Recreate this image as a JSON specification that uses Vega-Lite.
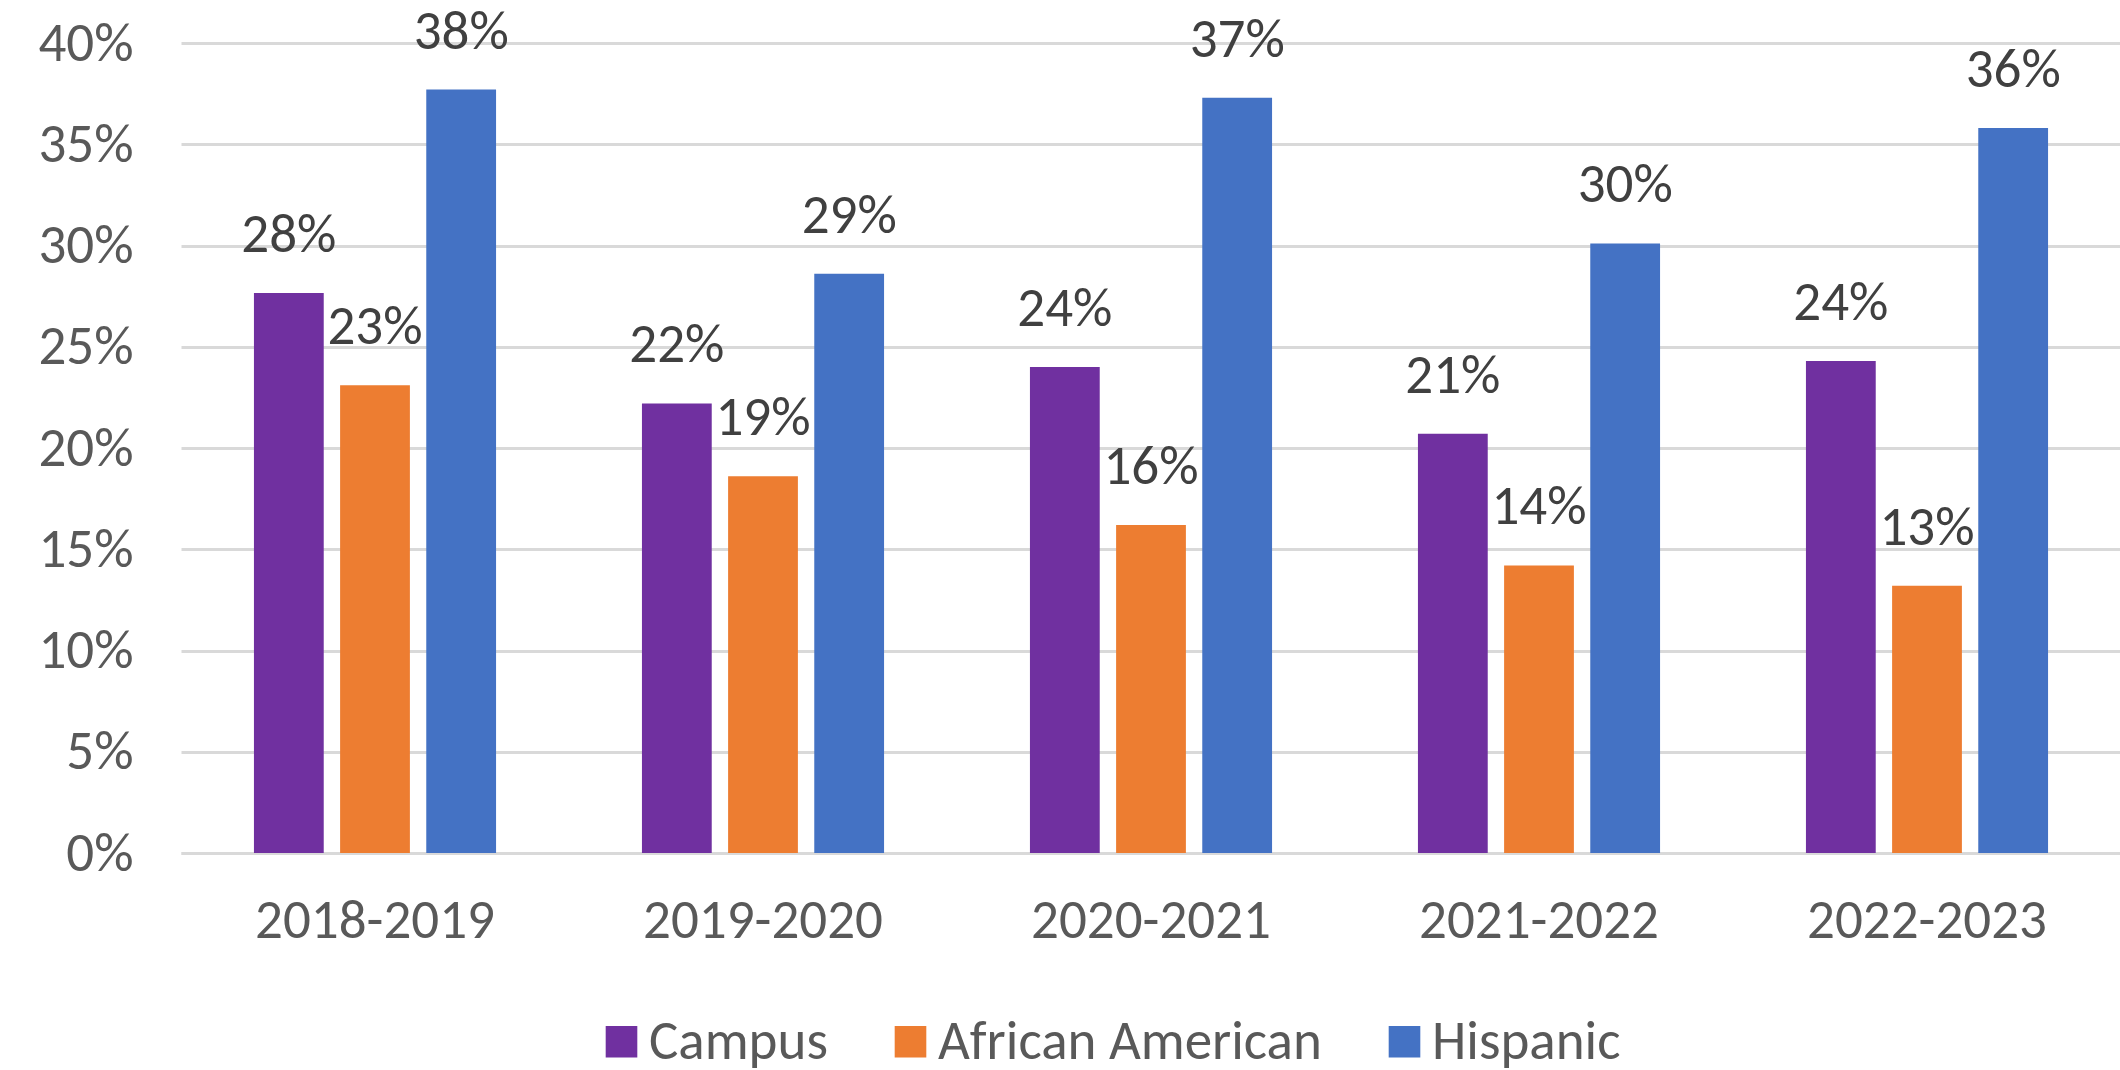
{
  "$schema": "https://vega.github.io/schema/vega-lite/v6.json",
  "width": 1940,
  "height": 810,
  "autosize": {"type": "none"},
  "padding": {"left": 181, "top": 43, "right": 0, "bottom": 217},
  "background": "white",
  "config": {
    "view": {"stroke": null},
    "font": "Carlito, Lato, sans-serif"
  },
  "data": {
    "values": [
      {"year": "2018-2019", "group": "Campus", "value": 0.2765},
      {"year": "2018-2019", "group": "African American", "value": 0.231},
      {"year": "2018-2019", "group": "Hispanic", "value": 0.377},
      {"year": "2019-2020", "group": "Campus", "value": 0.222},
      {"year": "2019-2020", "group": "African American", "value": 0.186},
      {"year": "2019-2020", "group": "Hispanic", "value": 0.286},
      {"year": "2020-2021", "group": "Campus", "value": 0.240},
      {"year": "2020-2021", "group": "African American", "value": 0.162},
      {"year": "2020-2021", "group": "Hispanic", "value": 0.373},
      {"year": "2021-2022", "group": "Campus", "value": 0.207},
      {"year": "2021-2022", "group": "African American", "value": 0.142},
      {"year": "2021-2022", "group": "Hispanic", "value": 0.301},
      {"year": "2022-2023", "group": "Campus", "value": 0.243},
      {"year": "2022-2023", "group": "African American", "value": 0.132},
      {"year": "2022-2023", "group": "Hispanic", "value": 0.358}
    ]
  },
  "encoding": {
    "x": {
      "field": "year",
      "type": "nominal",
      "sort": null,
      "scale": {"paddingInner": 0.376, "paddingOuter": 0.188},
      "axis": {
        "title": null,
        "labelAngle": 0,
        "labelFontSize": 55,
        "labelColor": "#595959",
        "labelPadding": 41,
        "labelLimit": 0,
        "ticks": false,
        "domainColor": "#d9d9d9",
        "domainWidth": 3
      }
    },
    "xOffset": {
      "field": "group",
      "type": "nominal",
      "sort": ["Campus", "African American", "Hispanic"],
      "scale": {"paddingInner": 0.19, "paddingOuter": 0}
    },
    "y": {
      "field": "value",
      "type": "quantitative",
      "scale": {"domain": [0, 0.4], "nice": false},
      "axis": {
        "title": null,
        "format": ".0%",
        "values": [0, 0.05, 0.1, 0.15, 0.2, 0.25, 0.3, 0.35, 0.4],
        "labelFontSize": 55,
        "labelColor": "#595959",
        "labelPadding": 48,
        "labelLimit": 0,
        "ticks": false,
        "domain": false,
        "gridColor": "#d9d9d9",
        "gridWidth": 3
      }
    }
  },
  "layer": [
    {
      "mark": {"type": "bar"},
      "encoding": {
        "color": {
          "field": "group",
          "type": "nominal",
          "sort": ["Campus", "African American", "Hispanic"],
          "scale": {
            "domain": ["Campus", "African American", "Hispanic"],
            "range": ["#7030A0", "#ED7D31", "#4472C4"]
          },
          "legend": {
            "title": null,
            "orient": "none",
            "legendX": 413,
            "legendY": 971,
            "direction": "horizontal",
            "symbolType": "square",
            "symbolSize": 1000,
            "symbolStrokeWidth": 0,
            "symbolOpacity": 1,
            "labelFontSize": 55,
            "labelColor": "#595959",
            "labelOffset": 0,
            "labelLimit": 0,
            "columnPadding": 55
          }
        }
      }
    },
    {
      "mark": {"type": "text", "baseline": "alphabetic", "dy": -41, "fontSize": 55, "color": "#404040"},
      "encoding": {
        "text": {"field": "value", "type": "quantitative", "format": ".0%"}
      }
    }
  ]
}
